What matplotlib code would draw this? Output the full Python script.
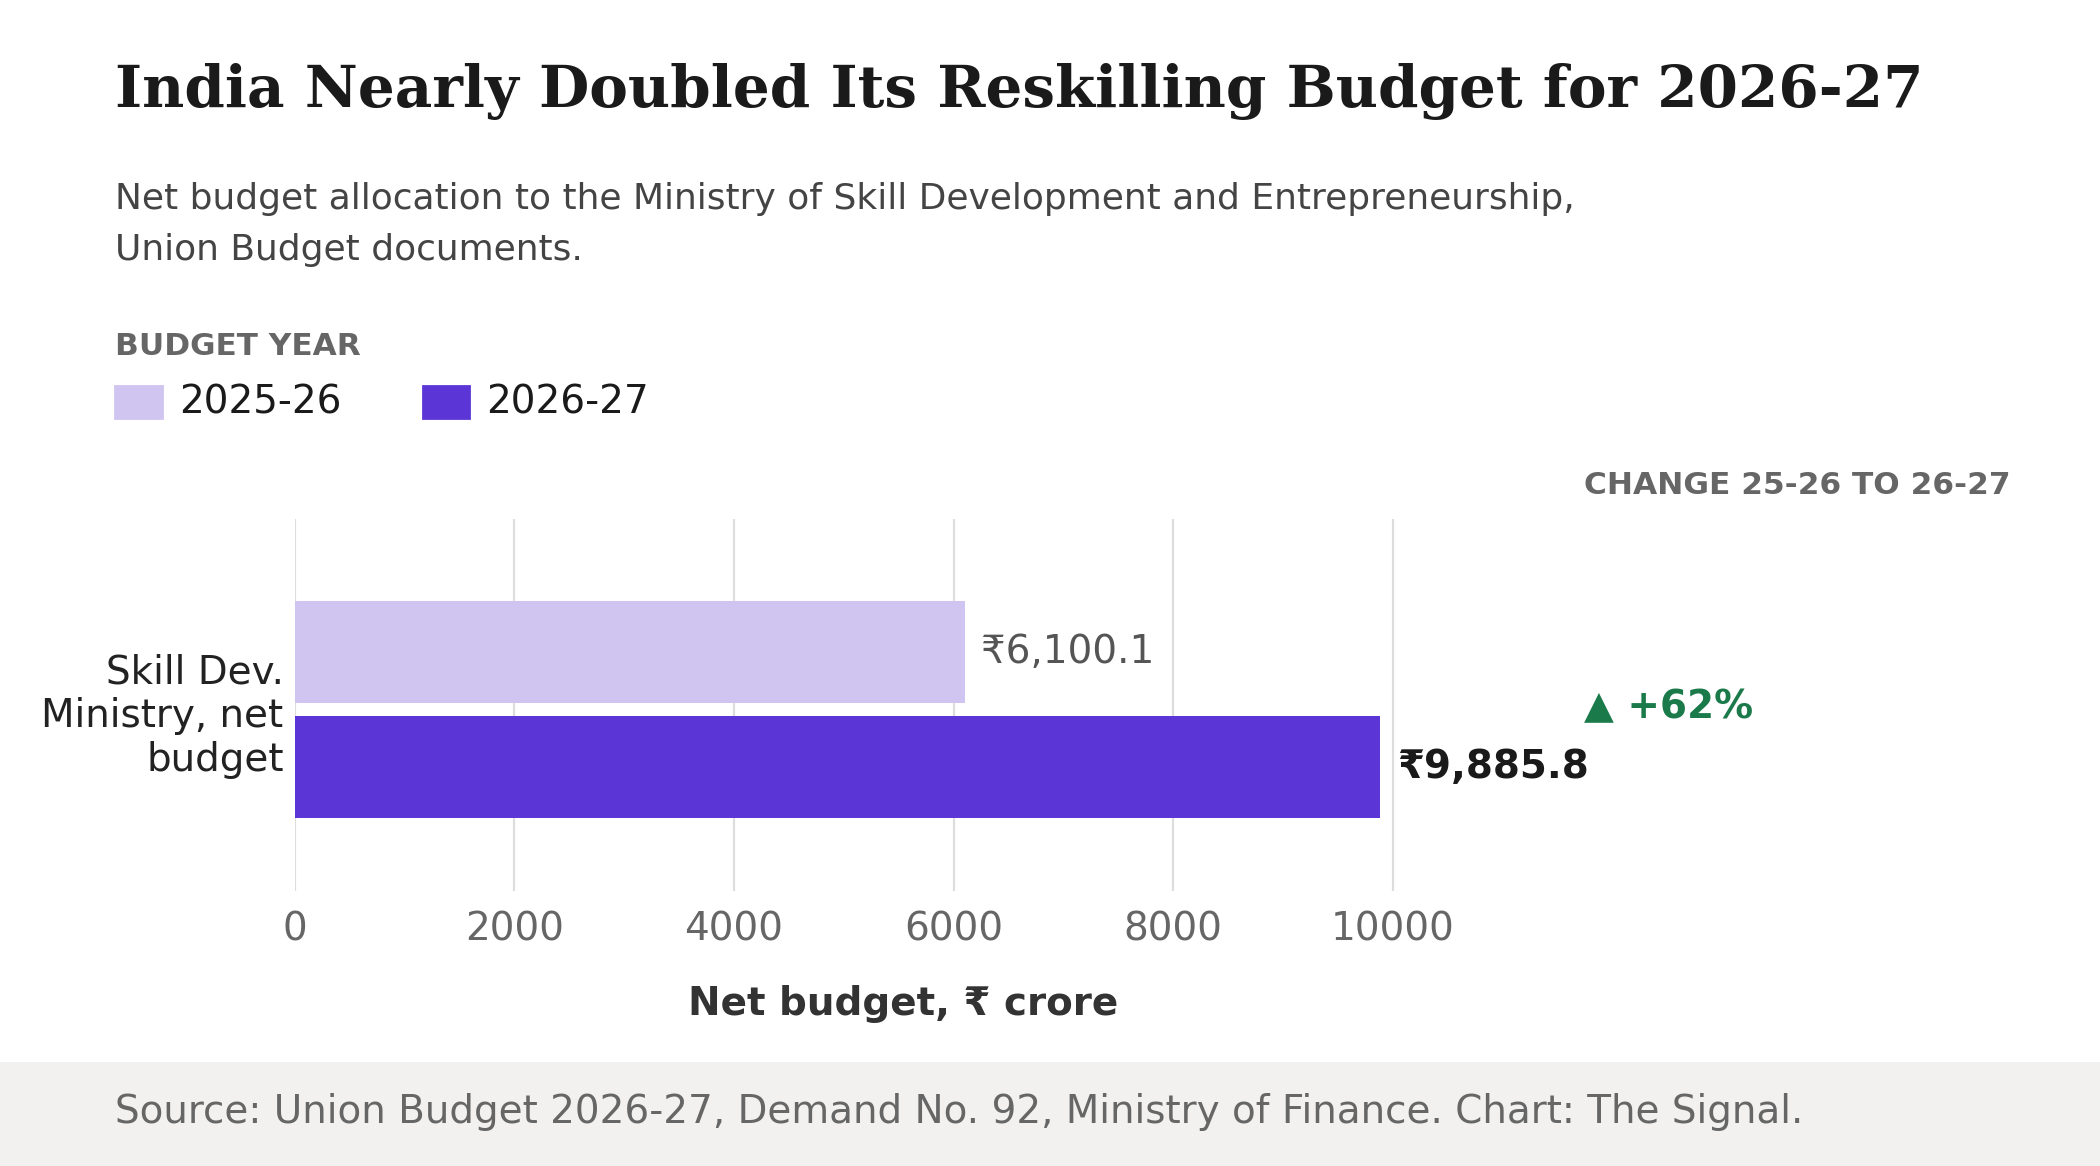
import matplotlib.pyplot as plt
from matplotlib.patches import Rectangle

# data
categories = ["Skill Dev.\nMinistry, net\nbudget"]
years = ["2025-26", "2026-27"]
budget_2025_26 = [6100.1]
budget_2026_27 = [9885.8]
x_ticks = [0, 2000, 4000, 6000, 8000, 10000]

LIGHT = "#d0c4f1"
DARK = "#5b35d5"
GREEN = "#1a7a4a"

plt.rcParams["font.family"] = ["DejaVu Sans"]

fig = plt.figure(figsize=(10.5, 5.83), dpi=200)
W, H = 1568, 870  # layout measured on a 1568x870 grid


def fx(x):
    return x / W


def fy(y):
    return 1 - y / H


ax = fig.add_axes([fx(220), fy(665), fx(1128) - fx(220), fy(387) - fy(665)])

bar_h = 0.33
off = 0.185
ax.barh([off], budget_2025_26, height=bar_h, color=LIGHT, zorder=2)
ax.barh([-off], budget_2026_27, height=bar_h, color=DARK, zorder=2)

for v in budget_2025_26:
    ax.annotate(f"₹{v:,.1f}", (v, off), xytext=(6, 0), textcoords="offset points",
                va="center", ha="left", fontsize=14, color="#555555")
for v in budget_2026_27:
    ax.annotate(f"₹{v:,.1f}", (v, -off), xytext=(6, 0), textcoords="offset points",
                va="center", ha="left", fontsize=14, color="#1a1a1a", fontweight="bold")

ax.set_xlim(0, max(budget_2026_27) * 1.12)
ax.set_ylim(-0.586, 0.614)
ax.set_xticks(x_ticks)
ax.set_xticklabels([str(t) for t in x_ticks])
ax.set_yticks([0])
ax.set_yticklabels(categories, fontsize=14, color="#222222", linespacing=1.2)
ax.tick_params(axis="x", length=0, pad=7, labelsize=14, labelcolor="#666666")
ax.tick_params(axis="y", length=0, pad=4)
for s in ax.spines.values():
    s.set_visible(False)
ax.grid(axis="x", color="#dddddd", linewidth=0.8, zorder=0)
ax.set_axisbelow(True)

# titles
fig.text(fx(86), fy(80), "India Nearly Doubled Its Reskilling Budget for 2026-27",
         family="DejaVu Serif", fontweight="bold", fontsize=20.9, color="#1a1a1a", va="baseline")
fig.text(fx(86), fy(156),
         "Net budget allocation to the Ministry of Skill Development and Entrepreneurship,",
         fontsize=12.95, color="#444444", va="baseline")
fig.text(fx(86), fy(194), "Union Budget documents.",
         fontsize=12.95, color="#444444", va="baseline")

# legend
fig.text(fx(86), fy(265), "BUDGET YEAR", fontsize=11.2, fontweight="bold", color="#666666", va="baseline")
for (x0, x1, xt), year, col in zip([(86, 121, 134), (316, 350, 363)], years, [LIGHT, DARK]):
    fig.add_artist(Rectangle((fx(x0), fy(312)), fx(x1) - fx(x0), fy(288) - fy(312),
                             transform=fig.transFigure, color=col))
    fig.text(fx(xt), fy(300), year, fontsize=14, color="#1a1a1a", va="center")

# change column
fig.text(fx(1501), fy(362), "CHANGE 25-26 TO 26-27", fontsize=11.25, fontweight="bold",
         color="#666666", ha="right", va="center")
pct = (budget_2026_27[0] / budget_2025_26[0] - 1) * 100
fig.text(fx(1183), fy(528), f"▲ +{pct:.0f}%", fontsize=14, fontweight="bold",
         color=GREEN, va="center")

fig.text((fx(220) + fx(1128)) / 2, fy(749), "Net budget, ₹ crore", fontsize=14,
         fontweight="bold", color="#333333", ha="center", va="center")

# footer
fig.add_artist(Rectangle((0, 0), 1, fy(793), transform=fig.transFigure,
                         color="#f2f1f0", zorder=0))
fig.text(fx(86), fy(830), "Source: Union Budget 2026-27, Demand No. 92, Ministry of Finance. Chart: The Signal.",
         fontsize=14, color="#666666", va="center")

fig.savefig("out.png", dpi=200)
